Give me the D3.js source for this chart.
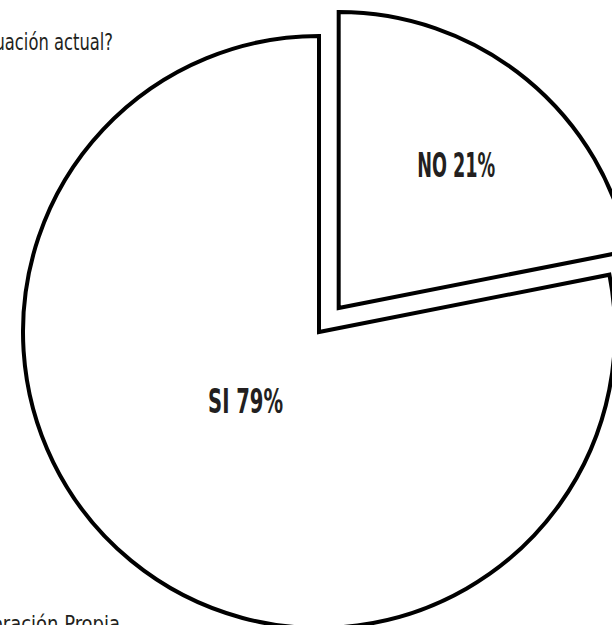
<!DOCTYPE html>
<html>
<head>
<meta charset="utf-8">
<script src="https://cdn.jsdelivr.net/npm/d3@7"></script>
<style>
  html, body { margin: 0; padding: 0; background: #fff; overflow: hidden; }
  text { font-family: "Liberation Sans Narrow", "DejaVu Sans Condensed", sans-serif; }
</style>
</head>
<body>
<svg id="chart"></svg>
<script>
// slice order follows the picture: NO starts at 12 o'clock, SI takes the rest
const categories = ["NO", "SI"];
const shares = [21.9, 78.1];          // slice sizes as drawn
const labels = ["NO 21%", "SI 79%"];  // printed labels
const titleTail = "situación actual?";
const sourceNote = "Elaboración Propia";

const width = 612, height = 625;
const cx = 319, cy = 332, radius = 296;
const explode = 31;

const svg = d3.select("#chart")
  .attr("width", width)
  .attr("height", height);

const pie = d3.pie().sort(null).value((d) => d.value);
const arcs = pie(categories.map((c, i) => ({ key: c, value: shares[i], label: labels[i] })));

const arc = d3.arc().innerRadius(0).outerRadius(radius);

const g = svg.append("g").attr("transform", `translate(${cx}, ${cy})`);

// exploded offset for NO slice
const offset = (d) => {
  if (d.data.key !== "NO") return [0, 0];
  const mid = (d.startAngle + d.endAngle) / 2;
  return [Math.sin(mid) * explode, -Math.cos(mid) * explode];
};

const slices = g.selectAll(".slice")
  .data(arcs)
  .enter()
  .append("g")
  .attr("class", "slice")
  .attr("transform", (d) => `translate(${offset(d)[0]}, ${offset(d)[1]})`);

slices.append("path")
  .attr("d", arc)
  .attr("fill", "#fff")
  .attr("stroke", "#000")
  .attr("stroke-width", 4)
  .attr("stroke-linejoin", "miter");

// label radius differs by slice size
const labelR = (d) => (d.data.key === "NO" ? radius * 0.625 : radius * 0.34);
const labelA = (d) => (d.startAngle + d.endAngle) / 2 + (d.data.key === "SI" ? 0.13 : 0);
slices.append("text")
  .attr("x", (d) => Math.sin(labelA(d)) * labelR(d))
  .attr("y", (d) => -Math.cos(labelA(d)) * labelR(d))
  .attr("text-anchor", "middle")
  .attr("dy", "0.36em")
  .attr("textLength", (d) => (d.data.key === "NO" ? 78 : 75))
  .attr("lengthAdjust", "spacingAndGlyphs")
  .style("font-size", "33px")
  .style("font-weight", "bold")
  .style("fill", "#231f20")
  .text((d) => d.data.label);

// cut-off title line and source note, as in the picture
svg.append("text")
  .attr("x", -25)
  .attr("y", 50)
  .attr("textLength", 138)
  .attr("lengthAdjust", "spacingAndGlyphs")
  .style("font-size", "23px")
  .style("fill", "#231f20")
  .text(titleTail);

svg.append("text")
  .attr("x", -47)
  .attr("y", 631)
  .attr("textLength", 167)
  .attr("lengthAdjust", "spacingAndGlyphs")
  .style("font-size", "21px")
  .style("fill", "#231f20")
  .text(sourceNote);
</script>
</body>
</html>
